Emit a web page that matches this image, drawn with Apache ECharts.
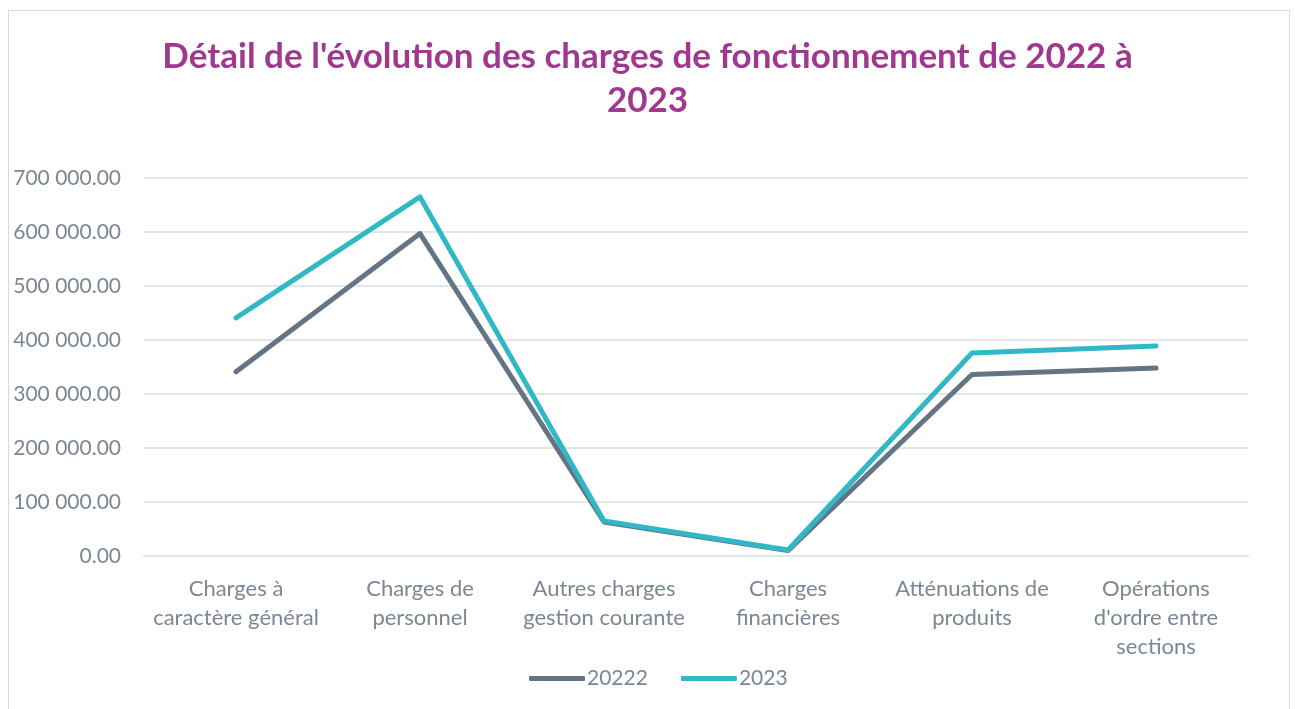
<!DOCTYPE html>
<html>
<head>
<meta charset="utf-8">
<script src="https://cdn.jsdelivr.net/npm/echarts@6/dist/echarts.min.js"></script>
<style>
    html, body { margin: 0; padding: 0; background: #fff; }
    #frame { position: absolute; left: 8px; top: 10px; width: 1282px; height: 710px; border: 1px solid #d9d9d9; box-sizing: border-box; }
    #chart { position: absolute; left: 0; top: 0; width: 1295px; height: 709px; }
</style>
</head>
<body>
<div id="frame"></div>
<div id="chart"></div>
<script>
// categories (line breaks as in the original labels)
const categories = [
    'Charges à\ncaractère général',
    'Charges de\npersonnel',
    'Autres charges\ngestion courante',
    'Charges\nfinancières',
    'Atténuations de\nproduits',
    'Opérations\nd\'ordre entre\nsections'
];
const values2022 = [341000, 597000, 63000, 10000, 336000, 348000];
const values2023 = [441000, 665000, 65000, 11000, 376000, 389000];
const seriesNames = ['20222', '2023'];

function fmt(v) {
    let s = Math.round(v).toString().replace(/\B(?=(\d{3})+(?!\d))/g, ' ');
    return s + '.00';
}

let chart = echarts.init(document.getElementById('chart'));

const option = {
    backgroundColor: 'transparent',
    animation: false,
    title: {
        text: 'Détail de l\'évolution des charges de fonctionnement de 2022 à\n2023',
        left: 'center',
        top: 30,
        textStyle: {
            fontFamily: 'Lato',
            fontWeight: 'bold',
            fontSize: 35,
            lineHeight: 44,
            color: '#a0388e'
        }
    },
    legend: {
        bottom: 15,
        left: 524,
        itemWidth: 56,
        itemHeight: 5,
        itemGap: 33,
        icon: 'roundRect',
        textStyle: { fontFamily: 'Lato', fontSize: 21, color: '#7b8794', padding: [0, 0, 0, -3] },
        data: seriesNames
    },
    grid: {
        left: 144,
        right: 47,
        top: 178,
        bottom: 153
    },
    xAxis: {
        type: 'category',
        data: categories,
        boundaryGap: true,
        axisLine: { lineStyle: { color: '#e2e5e9', width: 2 } },
        axisTick: { show: false },
        axisLabel: {
            fontFamily: 'Lato',
            fontSize: 22,
            lineHeight: 29,
            color: '#7b8794',
            margin: 18,
            interval: 0
        }
    },
    yAxis: {
        type: 'value',
        min: 0,
        max: 700000,
        interval: 100000,
        axisLine: { show: false },
        axisTick: { show: false },
        splitLine: { lineStyle: { color: '#e2e5e9', width: 2 } },
        axisLabel: {
            fontFamily: 'Lato',
            fontSize: 21,
            color: '#7b8794',
            margin: 23,
            formatter: fmt
        }
    },
    series: [
        {
            name: seriesNames[0],
            type: 'line',
            data: values2022,
            symbol: 'none',
            lineStyle: { width: 5, color: '#637484', cap: 'round', join: 'round' },
            itemStyle: { color: '#637484' }
        },
        {
            name: seriesNames[1],
            type: 'line',
            data: values2023,
            symbol: 'none',
            lineStyle: { width: 5, color: '#31b8c6', cap: 'round', join: 'round' },
            itemStyle: { color: '#31b8c6' }
        }
    ]
};
chart.setOption(option);

window.addEventListener('resize', function () {
    chart.resize();
});
</script>
</body>
</html>
